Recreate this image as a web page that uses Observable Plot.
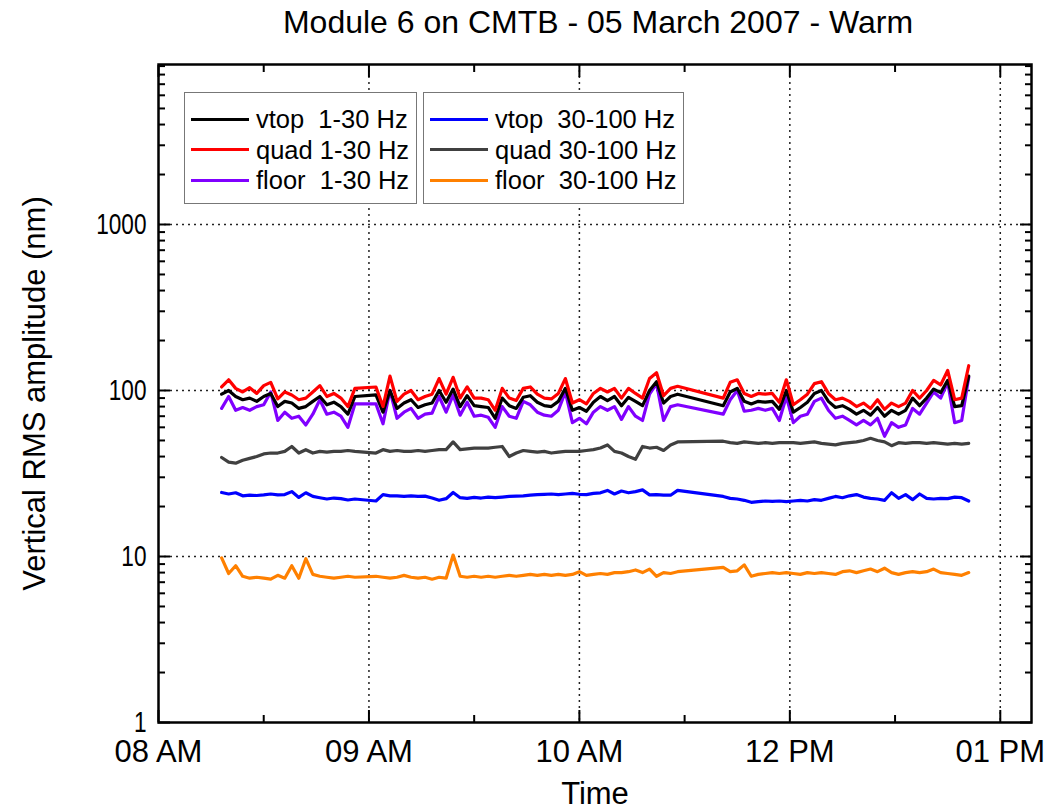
<!DOCTYPE html>
<html><head><meta charset="utf-8">
<script src="https://cdn.jsdelivr.net/npm/d3@7"></script>
<script src="https://cdn.jsdelivr.net/npm/@observablehq/plot@0.6"></script>
<style>
body{margin:0;background:#fff;font-family:"Liberation Sans",Arial,sans-serif;color:#000;}
#wrap{position:relative;width:1045px;height:809px;overflow:hidden;}
#title{box-sizing:border-box;height:44px;padding-top:2px;line-height:40px;font-size:32px;text-align:center;margin-left:158px;width:880px;white-space:nowrap;}
svg{overflow:visible;display:block;}
.lbox{position:absolute;top:92px;height:112px;box-sizing:border-box;border:1.5px solid #777;background:#fff;}
.lrow{position:absolute;left:0;height:30px;width:100%;}
.lsw{position:absolute;left:6px;width:58px;height:3px;top:13.5px;}
.ltx{position:absolute;left:71px;top:0;line-height:30px;font-size:25.5px;white-space:pre;}
g[aria-label="x-axis tick label"]{font-family:"Liberation Sans",Arial,sans-serif;font-size:31px;}
g[aria-label="y-axis tick label"]{font-family:"Liberation Sans",Arial,sans-serif;font-size:29px;}
g[aria-label="x-axis label"], g[aria-label="y-axis label"]{font-family:"Liberation Sans",Arial,sans-serif;font-size:31px;}
</style>
</head><body>
<div id="wrap">
<div id="title">Module 6 on CMTB - 05 March 2007 - Warm</div>
<div id="chart"></div>
</div>
<script>
// time in minutes after 08 AM (axis units)
const times = [18,20,22,24,26,28,30,32,34,36,38,40,42,44,46,48,50,52,54,56,
 62,64,66,68,70,72,74,76,78,80,82,84,86,88,90,92,94,96,98,100,102,104,106,108,110,112,114,116,118,120,122,124,126,128,130,132,134,136,138,140,142,144,146,148,
 161,163,165,167,169,171,173,175,177,179,181,183,185,187,189,191,193,195,197,199,201,203,205,207,209,211,213,215,217,219,221,223,225,227,229,231];

const vtop_1_30 = [95,100,92,88,90,86,92,96,80,86,84,78,80,86,92,82,85,80,72,92,
 94,74,100,78,84,88,79,82,84,100,85,102,80,93,81,80,79,68,90,81,78,91,93,85,81,80,86,103,76,79,75,85,92,87,92,81,91,86,81,100,113,84,92,95,
 81,98,103,86,83,86,85,86,77,100,74,79,85,96,100,86,79,81,77,72,76,71,79,70,76,72,76,90,81,90,102,97,115,80,81,122];

const quad_1_30 = [105,116,103,98,104,96,107,112,89,98,94,88,90,98,107,92,96,90,80,103,
 105,80,122,86,95,100,88,92,95,118,95,120,90,105,90,90,88,76,103,90,87,103,105,95,90,89,96,118,84,88,83,96,103,98,103,90,103,96,90,118,128,93,103,106,
 90,112,116,96,92,96,95,96,85,116,82,88,95,110,113,96,88,90,86,80,84,78,88,77,84,80,84,100,90,100,115,108,132,88,90,141];

const floor_1_30 = [78,92,76,79,76,80,82,98,66,74,68,70,62,72,88,72,74,70,60,83,
 83,63,100,68,74,78,68,72,73,92,74,94,71,85,70,71,69,60,80,70,68,86,82,74,71,70,76,98,64,68,63,74,80,76,80,67,80,70,66,95,110,66,80,82,
 72,88,100,75,76,78,76,78,66,92,64,70,72,86,90,76,68,70,66,62,66,62,68,53,64,60,62,78,72,84,98,90,112,64,66,120];

const vtop_30_100 = [24.3,23.8,24.2,23.2,23.4,23.3,23.5,23.8,23.5,23.6,24.6,22.7,24.2,23,22.6,22.2,22.5,22.3,21.9,22.2,
 21.6,23.6,23.2,23.2,23,23.2,23,23.1,22.5,21.8,22.3,24.3,22.6,22.4,22.7,22.5,22.8,22.6,22.8,23.0,23.1,23.2,23.4,23.6,23.7,23.8,23.6,23.8,24,23.7,23.6,24,24.2,25,23.8,24.8,24.2,24.6,25.2,23.5,23.6,23.4,23.4,25,
 23,22.4,22.2,21.8,21.2,21.4,21.6,21.5,21.6,21.4,21.6,21.8,21.6,22,21.8,22.4,23,22.6,23.2,23.6,22.8,22.4,22.2,21.8,24.2,22.4,23.6,22,23.8,22.4,22.2,22.4,22.3,22.8,22.6,21.6];

const quad_30_100 = [39.5,37,36.5,38,39,40,41.5,42,42,43,46,42,44,42,43,42.5,43,43,43.5,43,
 42,44,43,43.5,43,43,43.5,43,43.5,44,44,49,44,44.5,45,45,45,45.5,46,40,42,43.5,43,42.5,43,42,42.5,43,43,43,43.5,44,45,47,43,42,40,38.5,46,45,45.5,43.5,47,49,
 49.5,48.5,48,49,48.5,48,48.5,48,48.5,48.5,48.5,48,48.5,49,48,47.5,47,48,48.5,49,50,51.5,50,49,46.5,48.5,48,48.5,48.5,48,48.5,48,47.5,48,47.5,48];

const floor_30_100 = [9.8,7.9,8.8,7.6,7.4,7.5,7.4,7.3,7.7,7.4,8.8,7.4,9.7,7.8,7.6,7.5,7.4,7.5,7.6,7.5,
 7.6,7.5,7.4,7.5,7.7,7.5,7.4,7.5,7.3,7.5,7.4,10.2,7.6,7.5,7.6,7.5,7.6,7.5,7.6,7.7,7.6,7.7,7.8,7.7,7.8,7.7,7.8,7.7,7.8,8.1,7.7,7.8,7.9,7.8,8.0,8.0,8.1,8.3,8.0,8.4,7.6,8.0,7.9,8.1,
 8.6,8.1,8.2,8.9,7.6,7.8,7.9,8.0,7.9,8.0,7.9,7.8,8.0,7.9,8.0,7.9,7.8,8.1,8.2,8.0,8.2,8.4,8.1,8.5,8.0,7.8,8.0,8.1,8.0,8.1,8.4,8.0,7.9,7.8,7.7,8.0];

const seriesNames = ["vtop  1-30 Hz","quad 1-30 Hz","floor  1-30 Hz","vtop  30-100 Hz","quad 30-100 Hz","floor  30-100 Hz"];
const seriesColors = ["#000000","#ff0000","#8000ff","#0000ff","#404040","#ff8000"];
const seriesValues = [vtop_1_30, quad_1_30, floor_1_30, vtop_30_100, quad_30_100, floor_30_100];
const drawOrder = [5,3,4,2,0,1];

const xTickValues = [0,60,120,180,240];
const xTickLabels = ["08 AM","09 AM","10 AM","12 PM","01 PM"];
const xMinorTicks = [30,90,150,210];
const yTickValues = [1,10,100,1000];
const yTickLabels = ["1","10","100","1000"];
const yMinorTicks = [2,3,4,5,6,7,8,9,20,30,40,50,60,70,80,90,200,300,400,500,600,700,800,900,2000,3000,4000,5000,6000,7000,8000,9000];

const rows = [];
for (const k of drawOrder) {
  seriesValues[k].forEach((v, i) => rows.push({t: times[i], v, s: seriesNames[k]}));
}
const xLab = new Map(xTickValues.map((d, i) => [d, xTickLabels[i]]));
const yLab = new Map(yTickValues.map((d, i) => [d, yTickLabels[i]]));

const grid = {stroke: "#222", strokeDasharray: "2,4", strokeWidth: 1.5};
const tk = {fill: "none", label: null, stroke: "black", strokeWidth: 2};

const chart = Plot.plot({
  width: 1045, height: 765,
  marginTop: 20, marginBottom: 87, marginLeft: 158, marginRight: 14,
  style: {background: "transparent", color: "black", fontFamily: "Liberation Sans, Arial, sans-serif"},
  x: {domain: [0, 248.9]},
  y: {type: "log", domain: [1, 9200]},
  color: {domain: seriesNames, range: seriesColors},
  marks: [
    Plot.ruleX(xTickValues.slice(1), grid),
    Plot.ruleY(yTickValues.slice(1), grid),
    Plot.line(rows, {x: "t", y: "v", z: "s", stroke: "s", strokeWidth: 3.2, strokeLinejoin: "round"}),
    Plot.frame({stroke: "black", strokeWidth: 2.5}),
    Plot.axisX(xTickValues, {...tk, anchor: "bottom", tickSize: 12, dy: -12}),
    Plot.axisX(xMinorTicks, {...tk, anchor: "bottom", tickSize: 7, dy: -7}),
    Plot.axisX(xTickValues, {...tk, anchor: "top", tickSize: 12, dy: 12}),
    Plot.axisX(xMinorTicks, {...tk, anchor: "top", tickSize: 7, dy: 7}),
    Plot.axisY(yTickValues, {...tk, anchor: "left", tickSize: 12, dx: 12}),
    Plot.axisY(yMinorTicks, {...tk, anchor: "left", tickSize: 7, dx: 7}),
    Plot.axisY(yTickValues, {...tk, anchor: "right", tickSize: 12, dx: -12}),
    Plot.axisY(yMinorTicks, {...tk, anchor: "right", tickSize: 7, dx: -7}),
    Plot.axisX(xTickValues, {anchor: "bottom", tickSize: 0, tickPadding: 17, fontSize: 31,
      tickFormat: d => xLab.get(d), label: "Time", labelAnchor: "center", labelOffset: 81, labelArrow: "none"}),
    Plot.axisY(yTickValues, {anchor: "left", tickSize: 0, tickPadding: 12, fontSize: 29,
      tickFormat: d => yLab.get(d), label: "Vertical RMS amplitude (nm)", labelAnchor: "center", labelOffset: 136, labelArrow: "none"})
  ]
});
document.getElementById("chart").appendChild(chart);

// narrow the y tick labels (right-anchored, so scaling keeps their right edge)
d3.select(chart).selectAll('g[aria-label="y-axis tick label"] text').each(function () {
  const t = this.getAttribute("transform") || "";
  this.setAttribute("transform", t + " scale(0.78,1)");
});

// legend (HTML, two boxes)
const wrap = document.getElementById("wrap");
const boxes = [{left: 184, width: 233, idx: [0,1,2]}, {left: 423, width: 261, idx: [3,4,5]}];
for (const b of boxes) {
  const box = document.createElement("div");
  box.className = "lbox";
  box.style.left = b.left + "px";
  box.style.width = b.width + "px";
  b.idx.forEach((k, j) => {
    const row = document.createElement("div");
    row.className = "lrow";
    row.style.top = (11 + j * 30.5) + "px";
    const sw = document.createElement("div");
    sw.className = "lsw";
    sw.style.background = seriesColors[k];
    const tx = document.createElement("div");
    tx.className = "ltx";
    tx.textContent = seriesNames[k];
    row.appendChild(sw); row.appendChild(tx);
    box.appendChild(row);
  });
  wrap.appendChild(box);
}
</script>
</body></html>
